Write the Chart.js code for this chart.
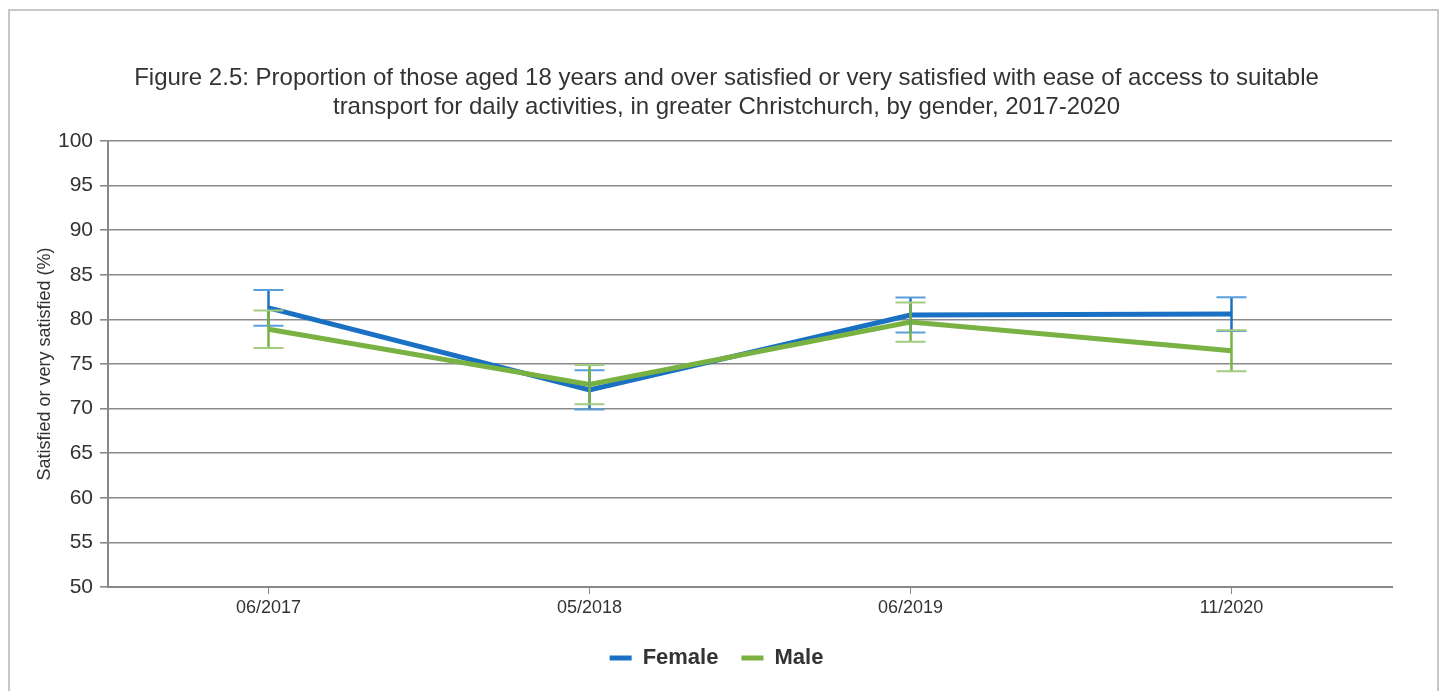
<!DOCTYPE html>
<html>
<head>
<meta charset="utf-8">
<script src="https://cdn.jsdelivr.net/npm/chart.js@4/dist/chart.umd.min.js"></script>
<style>
  html, body { margin: 0; padding: 0; background: #fff; overflow: hidden; }
  #frame { position: absolute; left: 8px; top: 9px; width: 1427px; height: 720px; border: 2px solid #c8c8c8; }
  #wrap { position: absolute; left: 0; top: 0; width: 1444px; height: 691px; }
</style>
</head>
<body>
<div id="frame"></div>
<div id="wrap"><canvas id="chart"></canvas></div>
<script>
// data
const periods = ['06/2017', '05/2018', '06/2019', '11/2020'];
const femaleValues = [81.3, 72.1, 80.5, 80.6];
const femaleErrors = [2.0, 2.2, 1.95, 1.9];
const maleValues = [78.9, 72.7, 79.7, 76.5];
const maleErrors = [2.1, 2.2, 2.2, 2.3];
const yTicks = [50, 55, 60, 65, 70, 75, 80, 85, 90, 95, 100];

const BLUE = '#1a70c2', BLUE_CAP = '#5a9fdc';
const GREEN = '#79b243', GREEN_CAP = '#a3cc80';
const FONT = '"Liberation Sans", Arial, sans-serif';

// simple error bar drawer: vertical line plus caps, using scale pixels
const errorBars = {
    id: 'errorBars',
    afterLayout(chart) {
        // legend sits a little left of centre in the original
        if (chart.legend) { chart.legend.left -= 10; chart.legend.right -= 10; }
    },
    afterDatasetsDraw(chart) {
        const ctx = chart.ctx;
        const y = chart.scales.y;
        [0, 1].forEach(di => {
            const ds = chart.data.datasets[di];
            const meta = chart.getDatasetMeta(di);
            meta.data.forEach((pt, i) => {
                const v = ds.data[i], e = ds.errors[i];
                const top = y.getPixelForValue(v + e);
                const bot = y.getPixelForValue(v - e);
                ctx.save();
                ctx.lineWidth = 2.5;
                ctx.strokeStyle = ds.borderColor;
                ctx.beginPath();
                ctx.moveTo(pt.x, top);
                ctx.lineTo(pt.x, bot);
                ctx.stroke();
                ctx.lineWidth = 2;
                ctx.strokeStyle = ds.capColor;
                ctx.beginPath();
                ctx.moveTo(pt.x - 15, top); ctx.lineTo(pt.x + 15, top);
                ctx.moveTo(pt.x - 15, bot); ctx.lineTo(pt.x + 15, bot);
                ctx.stroke();
                ctx.restore();
            });
        });
    }
};

new Chart(document.getElementById('chart'), {
    type: 'line',
    data: {
        labels: periods,
        datasets: [{
            label: 'Female',
            data: femaleValues,
            errors: femaleErrors,
            capColor: BLUE_CAP,
            borderColor: BLUE,
            backgroundColor: BLUE,
            borderWidth: 5,
            pointRadius: 0,
            tension: 0,
            order: 1
        }, {
            label: 'Male',
            data: maleValues,
            errors: maleErrors,
            capColor: GREEN_CAP,
            borderColor: GREEN,
            backgroundColor: GREEN,
            borderWidth: 5,
            pointRadius: 0,
            tension: 0,
            order: 0
        }]
    },
    options: {
        responsive: true,
        maintainAspectRatio: false,
        animation: false,
        layout: { padding: { left: 34, right: 25, top: 0, bottom: 12 } },
        scales: {
            x: {
                offset: true,
                afterFit: s => { s.height = 37; },
                grid: { display: true, offset: false, drawOnChartArea: false, color: '#888', tickLength: 7 },
                border: { color: '#888', width: 2 },
                ticks: { color: '#333', font: { family: FONT, size: 18 }, padding: 3 }
            },
            y: {
                min: 50, max: 100,
                afterBuildTicks: s => { s.ticks = yTicks.map(v => ({ value: v })); },
                afterFit: s => { s.width = 74; },
                grid: { color: '#8a8a8a', lineWidth: 1.6, tickLength: 8 },
                border: { color: '#888', width: 2 },
                ticks: { color: '#333', font: { family: FONT, size: 21 }, padding: 7 },
                title: {
                    display: true,
                    text: 'Satisfied or very satisfied (%)',
                    color: '#333',
                    font: { family: FONT, size: 18 },
                    padding: { top: 0, bottom: 4 }
                }
            },
            // empty spacer on the right so the title centres like the original
            spacer: {
                type: 'linear',
                position: 'right',
                afterFit: s => { s.width = 27; },
                grid: { display: false },
                border: { display: false },
                ticks: { display: false }
            }
        },
        plugins: {
            title: {
                display: true,
                text: ['Figure 2.5: Proportion of those aged 18 years and over satisfied or very satisfied with ease of access to suitable',
                       'transport for daily activities, in greater Christchurch, by gender, 2017-2020'],
                color: '#333',
                font: { family: FONT, size: 24, weight: 'normal', lineHeight: 1.21 },
                padding: { top: 64, bottom: 19 }
            },
            legend: {
                position: 'bottom',
                labels: {
                    usePointStyle: true,
                    pointStyle: 'line',
                    pointStyleWidth: 22,
                    color: '#333',
                    font: { family: FONT, size: 22, weight: 'bold' },
                    padding: 23,
                    sort: (a, b) => a.datasetIndex - b.datasetIndex
                }
            },
            tooltip: { enabled: false }
        }
    },
    plugins: [errorBars]
});
</script>
</body>
</html>
